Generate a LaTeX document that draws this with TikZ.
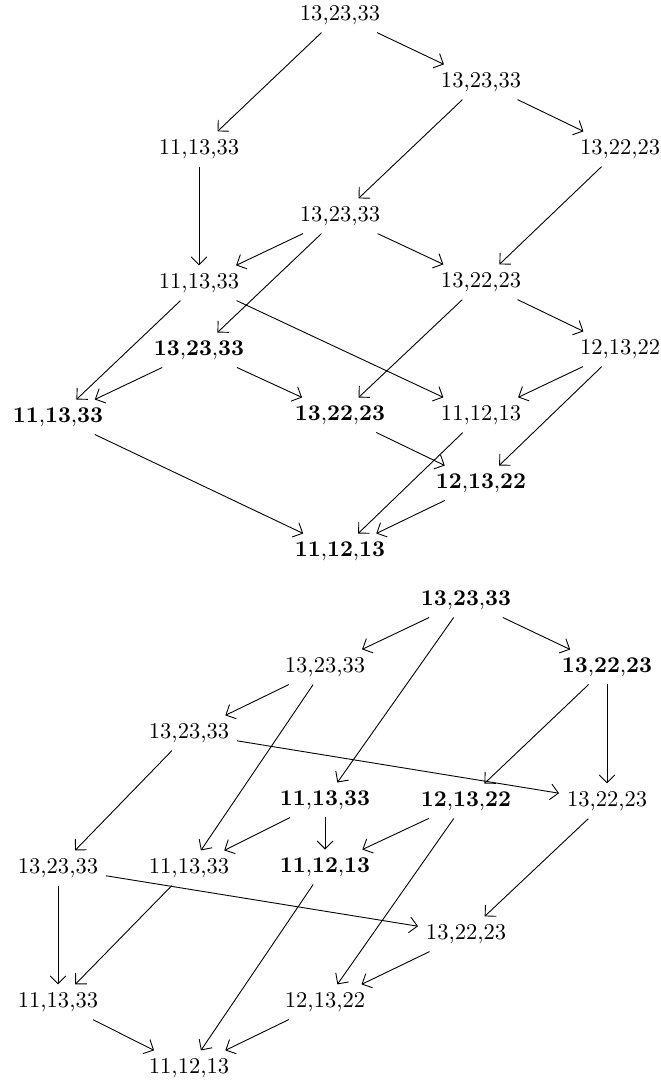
\documentclass[tikz,border=0pt]{standalone}
\usetikzlibrary{arrows.meta}
\newcommand\bnum[3]{\textbf{#1},\textbf{#2},\textbf{#3}}
\begin{document}
\begin{tikzpicture}[x=0.4444pt,y=-0.4444pt,
  ar/.style={-{Straight Barb[length=3.5pt,width=7pt]}, line width=0.4pt}]
\useasboundingbox (0,0) rectangle (660,1083);
% top diagram
\node (a1) at (340,15) {13,23,33};
\node (a2) at (481,82) {13,23,33};
\node (a3) at (199,149) {11,13,33};
\node (a4) at (620,149) {13,22,23};
\node (a5) at (340,216) {13,23,33};
\node (a6) at (199,283) {11,13,33};
\node (a7) at (481,282) {13,22,23};
\node (a8) at (199,350) {\bnum{13}{23}{33}};
\node (a9) at (620,349) {12,13,22};
\node (a10) at (58,417) {\bnum{11}{13}{33}};
\node (a11) at (340,415) {\bnum{13}{22}{23}};
\node (a12) at (481,415) {11,12,13};
\node (a13) at (481,483) {\bnum{12}{13}{22}};
\node (a14) at (340,551) {\bnum{11}{12}{13}};
\draw[ar] (a1) -- (a3);
\draw[ar] (a1) -- (a2);
\draw[ar] (a2) -- (a5);
\draw[ar] (a2) -- (a4);
\draw[ar] (a3) -- (a6);
\draw[ar] (a4) -- (a7);
\draw[ar] (a5) -- (a6);
\draw[ar] (a5) -- (a7);
\draw[ar] (a5) -- (a8);
\draw[ar] (a6) -- (a10);
\draw[ar] (a6) -- (a12);
\draw[ar] (a7) -- (a9);
\draw[ar] (a7) -- (a11);
\draw[ar] (a8) -- (a10);
\draw[ar] (a8) -- (a11);
\draw[ar] (a9) -- (a12);
\draw[ar] (a9) -- (a13);
\draw[ar] (a11) -- (a13);
\draw[ar] (a12) -- (a14);
\draw[ar] (a13) -- (a14);
\draw[ar] (a10) -- (a14);
% bottom diagram
\node (b1) at (466,600) {\bnum{13}{23}{33}};
\node (b2) at (325,667) {13,23,33};
\node (b3) at (607,667) {\bnum{13}{22}{23}};
\node (b4) at (189,733) {13,23,33};
\node (b5) at (325,800) {\bnum{11}{13}{33}};
\node (b6) at (466,801) {\bnum{12}{13}{22}};
\node (b7) at (607,801) {13,22,23};
\node (b8) at (58,868) {13,23,33};
\node (b9) at (189,868) {11,13,33};
\node (b10) at (325,867) {\bnum{11}{12}{13}};
\node (b11) at (466,934) {13,22,23};
\node (b12) at (58,1002) {11,13,33};
\node (b13) at (325,1002) {12,13,22};
\node (b14) at (189,1068) {11,12,13};
\draw[ar] (b1) -- (b2);
\draw[ar] (b1) -- (b3);
\draw[ar] (b1) -- (b5);
\draw[ar] (b2) -- (b4);
\draw[ar] (b2) -- (b9);
\draw[ar] (b3) -- (b6);
\draw[ar] (b3) -- (b7);
\draw[ar] (b4) -- (b7);
\draw[ar] (b4) -- (b8);
\draw[ar] (b5) -- (b9);
\draw[ar] (b5) -- (b10);
\draw[ar] (b6) -- (b10);
\draw[ar] (b6) -- (b13);
\draw[ar] (b7) -- (b11);
\draw[ar] (b8) -- (b11);
\draw[ar] (b8) -- (b12);
\draw[ar] (b9) -- (b12);
\draw[ar] (b10) -- (b14);
\draw[ar] (b11) -- (b13);
\draw[ar] (b12) -- (b14);
\draw[ar] (b13) -- (b14);
\end{tikzpicture}
\end{document}
